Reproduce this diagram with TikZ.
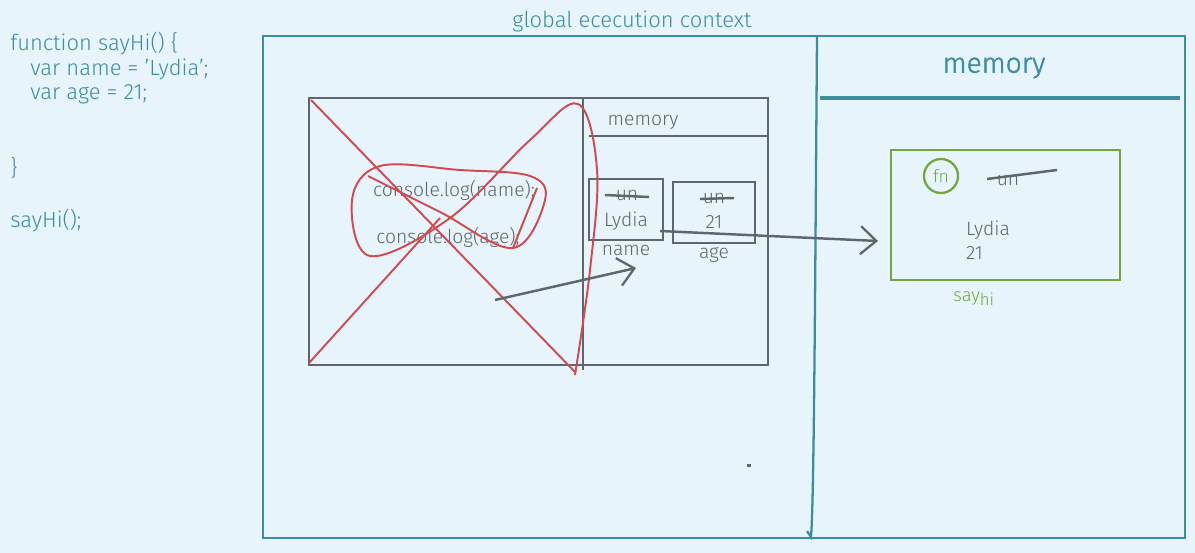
\documentclass[tikz,border=0pt]{standalone}
\usepackage{fontspec}
\setmainfont{Fira Sans Light}
\usetikzlibrary{arrows.meta,positioning}
\definecolor{nen}{HTML}{E8F4FC}
\definecolor{xanh}{HTML}{3A8EA0}
\definecolor{xam}{HTML}{5E6670}
\definecolor{do}{HTML}{D04A4E}
\definecolor{la}{HTML}{72A83A}
\tikzset{
  codetxt/.style={anchor=base west,text=xanh,font=\fontsize{12.5}{14}\selectfont,inner sep=0},
  graytxt/.style={text=xam,font=\fontsize{11}{13}\selectfont,inner sep=1pt},
  muiten/.style={-{Straight Barb[length=9pt,width=16pt,line width=1.3pt]},xam,line width=1.4pt}
}
\begin{document}
\begin{tikzpicture}[x=0.02cm,y=-0.02cm]
    % Nền
    \useasboundingbox (0,0) rectangle (1195,553);
    \fill[nen] (0,0) rectangle (1195,553);

    % Đoạn mã bên trái
    \node[codetxt] (l1) at (10,51) {function sayHi() \{};
    \node[codetxt] (l2) at (30,76) {var name = 'Lydia';};
    \node[codetxt] (l3) at (30,100) {var age = 21;};
    \node[codetxt] (l4) at (10,176) {\}};
    \node[codetxt] (l5) at (10,228) {sayHi();};

    % Ngữ cảnh thực thi toàn cục
    \draw[xanh,line width=1.3pt] (263,36) rectangle (1185,538);
    \node[text=xanh,font=\fontsize{12.5}{14}\selectfont] (gec) at (632,21) {global ececution context};
    \draw[xanh,line width=1.3pt] (817,36) .. controls (815,300) and (814,500) .. (811,537) -- (807,531);
    \draw[xanh,line width=2pt] (820,98) -- (1180,98);
    \node[text=xanh,font=\fontsize{16}{18}\selectfont\addfontfeatures{FakeBold=1.5}] (mem) at (994,68) {memory};

    % Khung hàm sayHi
    \draw[xam,line width=1.2pt] (309,98) rectangle (768,365);
    \draw[xam,line width=1.2pt] (583,98) -- (583,370);
    \draw[xam,line width=1.2pt] (589,136) -- (768,136);
    \node[graytxt] (mem2) at (643,122) {memory};
    \node[graytxt] (c1) at (454,190) {console.log(name);};
    \node[graytxt] (c2) at (448,237) {console.log(age);};

    % Ô biến name và age
    \draw[xam,line width=1.2pt] (589,179) rectangle (663,240);
    \draw[xam,line width=1.2pt] (673,182) rectangle (755,243);
    \node[graytxt] (un1) at (627,195) {un};
    \draw[xam,line width=1.4pt] (605,195) -- (649,197);
    \node[graytxt] (lyd) at (626,221) {Lydia};
    \node[graytxt] (nm) at (626,250) {name};
    \node[graytxt] (un2) at (714,198) {un};
    \draw[xam,line width=1.4pt] (700,199) -- (734,198);
    \node[graytxt] (n21) at (714,222) {21};
    \node[graytxt] (ag) at (714,255) {age};

    % Gạch bỏ màu đỏ
    \draw[do,line width=1.1pt] (311,100) -- (575,372);
    \draw[do,line width=1.1pt] plot[smooth,tension=0.6] coordinates {(368,176) (440,212) (513,248) (545,200) (530,176) (460,170) (380,166) (352,200) (370,256) (450,218) (530,140) (578,104) (597,170) (590,270) (575,375)};
    \draw[do,line width=1.1pt] (309,363) -- (440,218);
    \draw[do,line width=1.1pt] (513,248) -- (537,188);

    % Mũi tên
    \coordinate (a1) at (495,300);
    \coordinate (a2) at (636,268);
    \draw[muiten] (a1) -- (a2);
    \coordinate (b1) at (660,231);
    \coordinate (b2) at (878,241);
    \draw[muiten] (b1) -- (b2);

    % Khung hàm trong bộ nhớ
    \draw[la,line width=1.6pt] (891,150) rectangle (1120,280);
    \node[draw=la,line width=1.3pt,circle,minimum size=0.68cm,text=la,inner sep=1pt,font=\fontsize{10}{12}\selectfont] (fn) at (941,176) {fn};
    \node[graytxt] (un3) at (1008,180) {un};
    \draw[xam,line width=1.4pt] (987,179) -- (1057,170);
    \node[graytxt,anchor=west] (lyd2) at (964,230) {Lydia};
    \node[graytxt,anchor=west] (n212) at (964,253) {21};
    \node[text=la,font=\fontsize{10.5}{12}\selectfont,inner sep=0,anchor=base west] (say) at (953,302) {say\raisebox{-2pt}{\fontsize{9.5}{11}\selectfont hi}};

    % Dấu chấm
    \fill[xam] (747,464) rectangle (751,467);
\end{tikzpicture}
\end{document}
